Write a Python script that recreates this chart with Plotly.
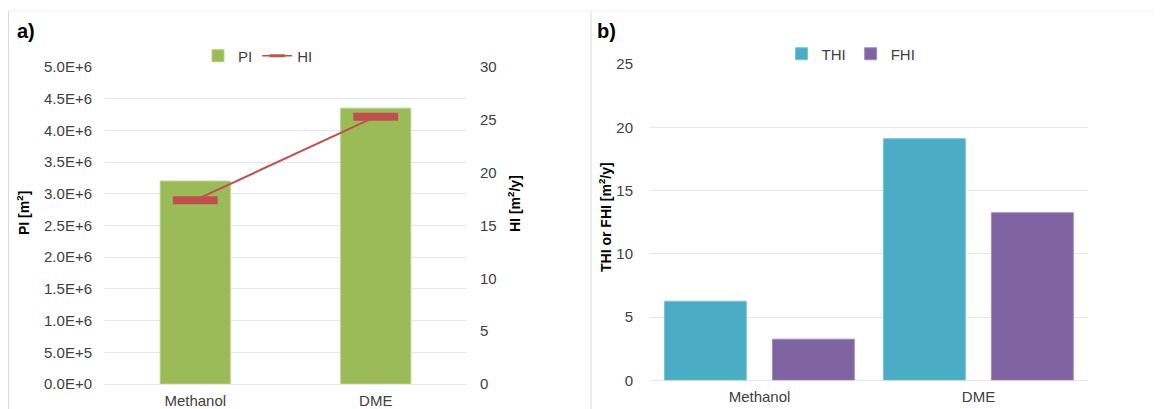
import plotly.graph_objects as go

# ---------------- data ----------------
categories = ["Methanol", "DME"]
pi_values = [3.2e6, 4.35e6]          # PI [m²]
hi_values = [17.4, 25.3]             # HI [m²/y]
thi_values = [6.25, 19.1]            # THI [m²/y]
fhi_values = [3.25, 13.25]           # FHI [m²/y]

pi_tick_vals = [0, 5e5, 1e6, 1.5e6, 2e6, 2.5e6, 3e6, 3.5e6, 4e6, 4.5e6, 5e6]
pi_tick_text = ["0.0E+0", "5.0E+5", "1.0E+6", "1.5E+6", "2.0E+6", "2.5E+6",
                "3.0E+6", "3.5E+6", "4.0E+6", "4.5E+6", "5.0E+6"]
hi_tick_vals = [0, 5, 10, 15, 20, 25, 30]
b_tick_vals = [0, 5, 10, 15, 20, 25]

# ---------------- style ----------------
# page body has an 8px margin: the figure is sized to fill the rest of the window
OFF = 8
W, H = 1162 - OFF, 409 - OFF
FONT = "Liberation Sans, Arial, sans-serif"
GREEN = "#9BBB59"
RED = "#C0504D"
TEAL = "#4BACC6"
PURPLE = "#8064A2"
GRID = "#E6E6E6"
TXT = "#404040"


def px(x):
    return (x - OFF) / W


def py(y):
    return 1 - (y - OFF) / H


fig = go.Figure()

# Panel a
fig.add_trace(go.Bar(
    x=categories, y=pi_values, name="PI", marker_color=GREEN,
    marker_line=dict(color="#B5CE86", width=1), width=0.388,
    xaxis="x", yaxis="y", legend="legend"))
fig.add_trace(go.Scatter(
    x=categories, y=hi_values, name="HI", mode="lines+markers",
    line=dict(color=RED, width=2),
    marker=dict(symbol="line-ew", size=32, line=dict(color=RED, width=8)),
    xaxis="x", yaxis="y2", showlegend=False))
# legend entry for HI (thin line with a small dash marker, as in the reference)
fig.add_trace(go.Scatter(
    x=[None], y=[None], name="HI", mode="lines+markers",
    line=dict(color=RED, width=1.5),
    marker=dict(symbol="line-ew", size=11, line=dict(color=RED, width=3)),
    xaxis="x", yaxis="y2", legend="legend", hoverinfo="skip"))

# Panel b
fig.add_trace(go.Bar(
    x=categories, y=thi_values, name="THI", marker_color=TEAL,
    marker_line=dict(color="#7CC4D8", width=1), width=0.374, offset=-0.434,
    xaxis="x2", yaxis="y3", legend="legend2"))
fig.add_trace(go.Bar(
    x=categories, y=fhi_values, name="FHI", marker_color=PURPLE,
    marker_line=dict(color="#A08CBB", width=1), width=0.374, offset=0.059,
    xaxis="x2", yaxis="y3", legend="legend2"))

tick_font = dict(family=FONT, size=15, color=TXT)

fig.update_layout(
    width=W, height=H,
    margin=dict(l=0, r=0, t=0, b=0, autoexpand=False),
    paper_bgcolor="white", plot_bgcolor="white",
    font=dict(family=FONT, size=15, color=TXT),
    barmode="group",
    xaxis=dict(domain=[px(105), px(466)], range=[-0.5, 1.5], type="category",
               showgrid=False, showline=False, zeroline=False,
               tickfont=tick_font, ticklabelstandoff=6, anchor="y"),
    yaxis=dict(domain=[py(384), py(67)], range=[0, 5e6],
               tickvals=pi_tick_vals, ticktext=pi_tick_text,
               showgrid=True, gridcolor=GRID, gridwidth=1,
               zeroline=True, zerolinecolor=GRID, zerolinewidth=1,
               showline=False, tickfont=tick_font, ticklabelstandoff=12,
               anchor="x"),
    yaxis2=dict(domain=[py(384), py(67)], range=[0, 30], tickvals=hi_tick_vals,
                overlaying="y", side="right", anchor="x",
                showgrid=False, zeroline=False, showline=False,
                tickfont=tick_font, ticklabelstandoff=13),
    xaxis2=dict(domain=[px(650), px(1088)], range=[-0.5, 1.5], type="category",
                showgrid=False, showline=False, zeroline=False,
                tickfont=tick_font, ticklabelstandoff=6, anchor="y3"),
    yaxis3=dict(domain=[py(380.3), py(64)], range=[0, 25], tickvals=b_tick_vals,
                showgrid=True, gridcolor=GRID, gridwidth=1,
                zeroline=True, zerolinecolor=GRID, zerolinewidth=1,
                showline=False, tickfont=tick_font, ticklabelstandoff=16,
                anchor="x2"),
    legend=dict(orientation="h", x=px(258), y=py(56), xanchor="center",
                yanchor="middle", font=dict(family=FONT, size=15, color=TXT),
                bgcolor="rgba(0,0,0,0)", itemwidth=30),
    legend2=dict(orientation="h", x=px(851), y=py(54), xanchor="center",
                 yanchor="middle", font=dict(family=FONT, size=15, color=TXT),
                 bgcolor="rgba(0,0,0,0)", itemwidth=30),
    showlegend=True,
)

# Titles and panel labels
ann = [
    dict(text="<b>a)</b>", x=px(26), y=py(31), font=dict(size=20, color="#000000")),
    dict(text="<b>b)</b>", x=px(607), y=py(31), font=dict(size=20, color="#000000")),
    dict(text="<b>PI [m<sup>2</sup>]</b>", x=px(23), y=py(213), textangle=-90,
         font=dict(size=14, color="#000000")),
    dict(text="<b>HI [m<sup>2</sup>/y]</b>", x=px(514), y=py(204), textangle=-90,
         font=dict(size=14, color="#000000")),
    dict(text="<b>THI or FHI [m<sup>2</sup>/y]</b>", x=px(605), y=py(217), textangle=-90,
         font=dict(size=14, color="#000000")),
]
for a in ann:
    fig.add_annotation(xref="paper", yref="paper", showarrow=False,
                       xanchor="center", yanchor="middle",
                       font_family=FONT, **{k: v for k, v in a.items()})

# Faint panel borders
fig.add_shape(type="line", xref="paper", yref="paper", x0=px(8.5), x1=px(8.5),
              y0=py(11), y1=0, line=dict(color="#D9D9D9", width=1))
fig.add_shape(type="line", xref="paper", yref="paper", x0=px(591), x1=px(591),
              y0=py(11), y1=0, line=dict(color="#D9D9D9", width=1))
fig.add_shape(type="line", xref="paper", yref="paper", x0=px(8.5), x1=1,
              y0=py(11), y1=py(11), line=dict(color="#F2F2F2", width=1))

fig.write_html("out.html")
